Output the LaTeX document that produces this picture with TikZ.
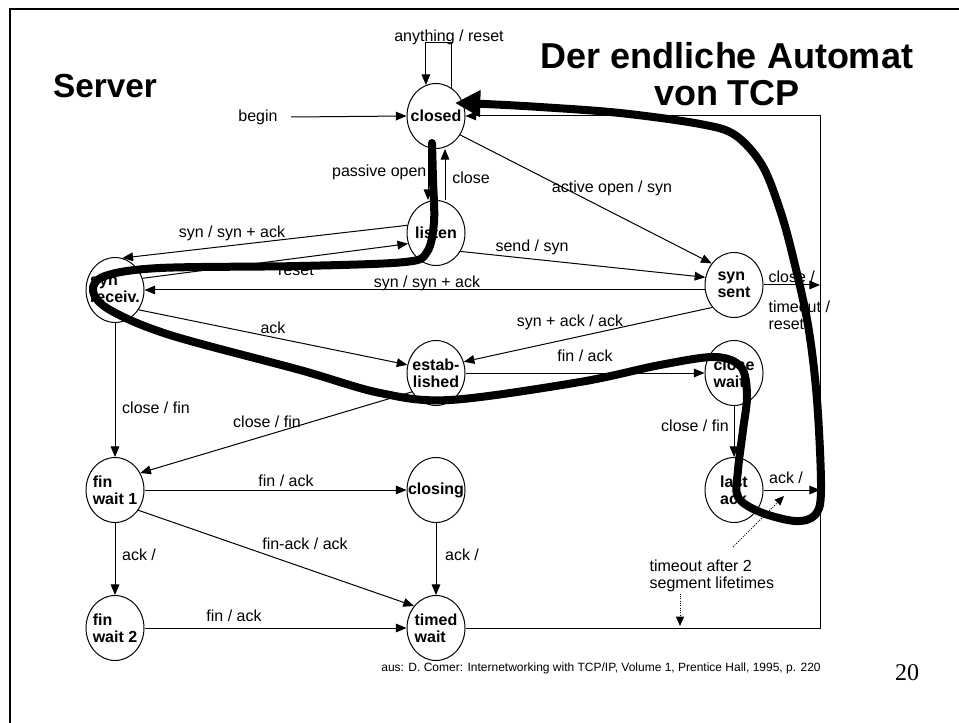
\documentclass[tikz,border=0pt]{standalone}
\usepackage{fontspec}
\setmainfont{Liberation Sans}
\newfontfamily\timesfont{Liberation Serif}
\usetikzlibrary{arrows.meta,shapes.geometric,calc}
\begin{document}
\begin{tikzpicture}[x=0.75pt,y=-0.75pt,
  state/.style={ellipse,draw,line width=0.75pt,minimum width=43.5pt,minimum height=48.75pt,inner sep=0pt},
  statetext/.style={font=\fontsize{12}{12.75}\selectfont\bfseries,align=left,inner sep=0pt},
  arr/.style={line width=0.75pt,-{Triangle[length=8pt,width=6.5pt]}},
  lbl/.style={font=\fontsize{12}{12.75}\selectfont,inner sep=1pt},
  dotarr/.style={line width=0.75pt,densely dotted,-{Triangle[length=7pt,width=6pt]}},
  hilite/.style={line width=6pt,line join=round,line cap=round,-{Triangle[length=19pt,width=19pt]}},
  frameline/.style={line width=1.5pt}
]
\useasboundingbox (0,0) rectangle (959,723);
\draw[frameline] (9.5,723) -- (9.5,9) -- (959,9);

% states
\node[state,label={[statetext]center:closed}] (closed) at (436,116) {};
\node[state,label={[statetext]center:listen}] (listen) at (436,233) {};
\node[state,label={[statetext]center:{syn\\receiv.}}] (synrec) at (115,290) {};
\node[state,label={[statetext]center:{syn\\sent}}] (synsent) at (734,285) {};
\node[state,label={[statetext,align=center]center:{estab-\\lished}}] (estab) at (436,373) {};
\node[state,label={[statetext]center:{close\\wait}}] (closewait) at (734,373) {};
\node[state,label={[statetext]center:{fin\\wait 1}}] (finw1) at (115,490) {};
\node[state,label={[statetext]center:closing}] (closing) at (436,490) {};
\node[state,label={[statetext]center:{last\\ack}}] (lastack) at (734,490) {};
\node[state,label={[statetext]center:{fin\\wait 2}}] (finw2) at (115,628) {};
\node[state,label={[statetext]center:{timed\\wait}}] (timed) at (436,628) {};

% titles and texts
\node[font=\fontsize{25}{30}\selectfont\bfseries,inner sep=0pt] (server) at (105,86) {Server};
\node[font=\fontsize{27}{27.75}\selectfont\bfseries,align=center,inner sep=0pt] (title) at (727,74) {Der endliche Automat\\von TCP};
\node[font=\fontsize{9}{10}\selectfont,inner sep=0pt] (src) at (601,668) {aus: D. Comer: Internetworking with TCP/IP, Volume 1, Prentice Hall, 1995, p. 220};
\node[font=\timesfont\fontsize{18}{20}\selectfont,inner sep=0pt] (pagenum) at (907,673) {20};

% labels
\node[lbl] (Lanything) at (449,37) {anything / reset};
\node[lbl] (Lbegin) at (258,117) {begin};
\node[lbl,anchor=east] (Lpassive) at (428,172) {passive open};
\node[lbl] (Lclose0) at (471,178) {close};
\node[lbl] (Lactive) at (612,188) {active open / syn};
\node[lbl] (Lsynsyn1) at (232,233) {syn / syn + ack};
\node[lbl] (Lreset) at (296,270) {reset};
\node[lbl] (Lsend) at (532,247) {send / syn};
\node[lbl] (Lsynsyn2) at (427,283) {syn / syn + ack};
\node[lbl] (Lack1) at (273,328) {ack};
\node[lbl] (Lsynackack) at (570,322) {syn + ack / ack};
\node[lbl,anchor=west] (Lclosesl) at (767,277) {close /};
\node[lbl,anchor=west,align=left] (Ltimeout) at (767,315) {timeout /\\reset};
\node[lbl] (Lfinack1) at (585,356) {fin / ack};
\node[lbl] (Lclosefin1) at (267,422) {close / fin};
\node[lbl] (Lclosefin2) at (156,408) {close / fin};
\node[lbl] (Lclosefin3) at (695,426) {close / fin};
\node[lbl] (Lacksl) at (786,478) {ack /};
\node[lbl] (Lfinack2) at (286,481) {fin / ack};
\node[lbl] (Lfinackack) at (305,544) {fin-ack / ack};
\node[lbl] (Lack2) at (139,555) {ack /};
\node[lbl] (Lack3) at (462,555) {ack /};
\node[lbl] (Lfinack3) at (234,616) {fin / ack};
\node[lbl,anchor=west,align=left] (Ltmo) at (648,576) {timeout after 2\\segment lifetimes};

% helper coordinates
\coordinate (rtop) at (820,116);
\coordinate (dotend) at (680,626);
\coordinate (dotstart) at (733,547);
\coordinate (dottip) at (784,496);

% connectors
\draw[arr] (closed.62) -- ++(0,-45) -| (closed.108);
\draw[arr] ($(Lbegin.east)+(12,0)$) -- (closed.west);
\draw[arr] ($(closed.south)+(-8,0)$) -- ($(listen.north)+(-8,0)$);
\draw[arr] ($(listen.north)+(9,0)$) -- ($(closed.south)+(9,0)$);
\draw[arr] (closed.-38) -- (synsent.136);
\draw[arr] (listen.165) -- (synrec.77);
\draw[arr] (synrec.23) -- (listen.201);
\draw[arr] (listen.-37) -- (synsent.165);
\draw[arr] (synsent.west |- synrec.east) -- (synrec.east);
\draw[arr] (synrec.-40) -- (estab.164);
\draw[arr] (synsent.226) -- (estab.22);
\draw[arr] (synsent.east) -- (synsent.east -| rtop);
\draw[arr] (timed.east) -| (rtop) -- (closed.east);
\draw[arr] (estab.east) -- (closewait.west);
\draw[arr] (estab.218) -- (finw1.34);
\draw[arr] (synrec.south) -- (finw1.north);
\draw[arr] (closewait.south) -- (lastack.north);
\draw[arr] (lastack.east) -- (lastack.east -| rtop);
\draw[arr] (finw1.east) -- (closing.west);
\draw[arr] (finw1.-41) -- (timed.135);
\draw[arr] (finw1.south) -- (finw2.north);
\draw[arr] (closing.south) -- (timed.north);
\draw[arr] (finw2.east) -- (timed.west);
\draw[dotarr] (dotend |- Ltmo.south) -- (dotend);
\draw[dotarr] (dotstart) -- (dottip);

% highlighted path
\draw[hilite] plot[smooth,tension=0.55] coordinates {
 (432,143) (433,180) (434,222) (427,252) (405,262) (300,266) (160,268)
 (105,276) (93,291) (110,310) (170,335) (300,370) (380,393) (450,400)
 (580,382) (660,365) (715,357) (741,367) (747,395) (743,430) (738,470)
 (738,497) (760,512) (795,521) (815,515) (821,490) (817,400) (808,325)
 (793,257) (780,210) (762,165) (735,135) (700,124) (620,113) (540,107)
 (485,104) (455,103)};
\end{tikzpicture}
\end{document}
